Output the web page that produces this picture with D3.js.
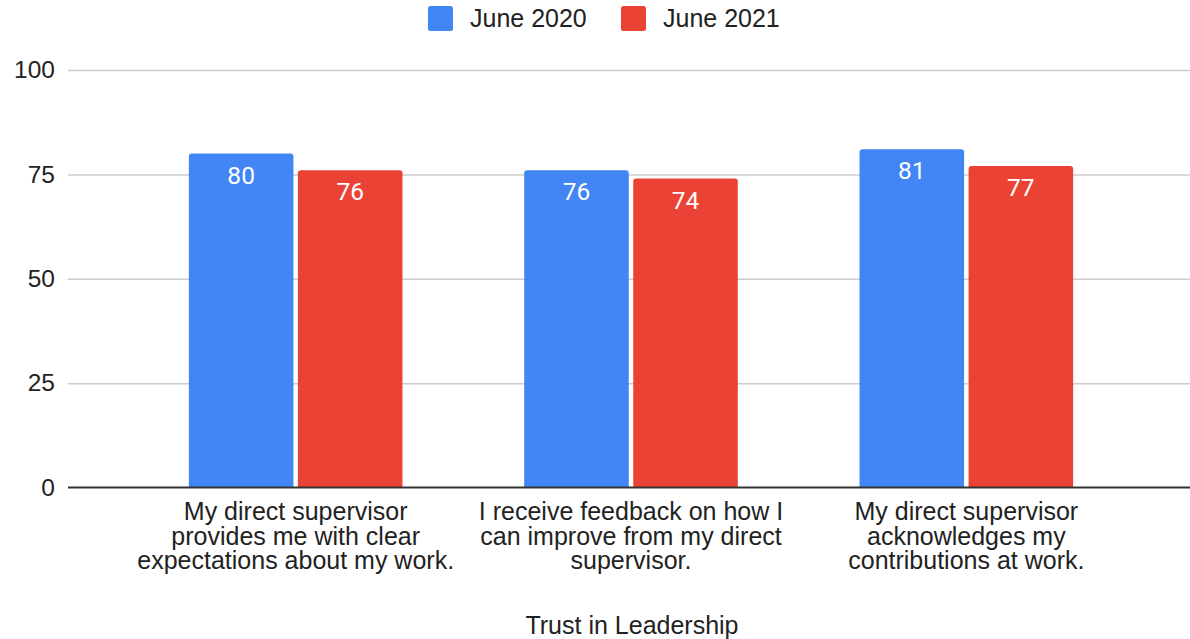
<!DOCTYPE html>
<html>
<head>
<meta charset="utf-8">
<script src="https://cdn.jsdelivr.net/npm/d3@7.9.0/dist/d3.min.js"></script>
<style>
  body { margin: 0; background: #fff; }
  svg { display: block; font-family: "Liberation Sans", Arial, sans-serif; }
</style>
</head>
<body>
<svg id="chart" width="1190" height="639"></svg>
<script>
// Chart data
const categories = [
  "My direct supervisor\nprovides me with clear\nexpectations about my work.",
  "I receive feedback on how I\ncan improve from my direct\nsupervisor.",
  "My direct supervisor\nacknowledges my\ncontributions at work."
];
const seriesNames = ["June 2020", "June 2021"];
const june2020 = [80, 76, 81];
const june2021 = [76, 74, 77];
const yTicks = [0, 25, 50, 75, 100];
const xTitle = "Trust in Leadership";

const colors = ["#4285F4", "#EA4335"];
const seriesValues = [june2020, june2021];

const svg = d3.select("#chart");

// Scales
const y = d3.scaleLinear().domain([0, 100]).range([487.5, 70]);

const p = 0.363;
const x0 = d3.scaleBand()
  .domain(categories)
  .range([128, 1134])
  .paddingInner(p)
  .paddingOuter(p / 2);

const x1 = d3.scaleBand()
  .domain(seriesNames)
  .range([0, x0.bandwidth()])
  .paddingInner(0.041);

// Gridlines + y labels
const yAxis = d3.axisLeft(y)
  .tickValues(yTicks)
  .tickSize(-(1190 - 68))
  .tickPadding(13);

const gy = svg.append("g")
  .attr("transform", "translate(68,0)")
  .call(yAxis);

gy.select(".domain").remove();
gy.selectAll(".tick line")
  .attr("stroke", (d) => (d === 0 ? "none" : "#cccccc"))
  .attr("stroke-width", 1.5);
gy.selectAll(".tick text")
  .attr("fill", "#222")
  .attr("font-size", 24.5)
  .attr("x", -13);

// Bars
const groups = svg.append("g")
  .selectAll("g")
  .data(categories)
  .join("g")
  .attr("transform", (d) => `translate(${x0(d)},0)`);

const barData = (cat, ci) =>
  seriesNames.map((s, si) => ({ series: s, si, value: seriesValues[si][ci] }));

function topRounded(x, yTop, w, h, r) {
  return `M${x},${yTop + h}V${yTop + r}Q${x},${yTop} ${x + r},${yTop}` +
    `H${x + w - r}Q${x + w},${yTop} ${x + w},${yTop + r}V${yTop + h}Z`;
}

groups.selectAll("path")
  .data((d, i) => barData(d, i))
  .join("path")
  .attr("d", (d) => topRounded(x1(d.series), y(d.value), x1.bandwidth(), y(0) - y(d.value), 3))
  .attr("fill", (d) => colors[d.si]);

groups.selectAll("text.val")
  .data((d, i) => barData(d, i))
  .join("text")
  .attr("class", "val")
  .attr("x", (d) => x1(d.series) + x1.bandwidth() / 2)
  .attr("y", (d) => y(d.value) + 30)
  .attr("text-anchor", "middle")
  .attr("fill", "#fff")
  .attr("font-family", "Roboto, sans-serif")
  .attr("font-size", 24.5)
  .text((d) => d.value);

// Baseline
svg.append("line")
  .attr("x1", 68).attr("x2", 1190)
  .attr("y1", y(0)).attr("y2", y(0))
  .attr("stroke", "#333")
  .attr("stroke-width", 2);

// X category labels
const xLabels = svg.append("g")
  .selectAll("text")
  .data(categories)
  .join("text")
  .attr("text-anchor", "middle")
  .attr("fill", "#222")
  .attr("font-size", 25)
  .attr("transform", (d) => `translate(${x0(d) + x0.bandwidth() / 2},520)`);

xLabels.selectAll("tspan")
  .data((d) => d.split("\n"))
  .join("tspan")
  .attr("x", 0)
  .attr("y", (d, i) => i * 24.5)
  .text((d) => d);

// X title
svg.append("text")
  .attr("x", 632)
  .attr("y", 634)
  .attr("text-anchor", "middle")
  .attr("fill", "#222")
  .attr("font-size", 25)
  .text(xTitle);

// Legend
const legendX = [428, 621];
const legend = svg.append("g")
  .selectAll("g")
  .data(seriesNames)
  .join("g")
  .attr("transform", (d, i) => `translate(${legendX[i]},6)`);

legend.append("rect")
  .attr("width", 25).attr("height", 25)
  .attr("rx", 2.5)
  .attr("fill", (d, i) => colors[i]);

legend.append("text")
  .attr("x", 42)
  .attr("y", 12.5)
  .attr("dy", "0.35em")
  .attr("fill", "#222")
  .attr("font-size", 25)
  .text((d) => d);
</script>
</body>
</html>
